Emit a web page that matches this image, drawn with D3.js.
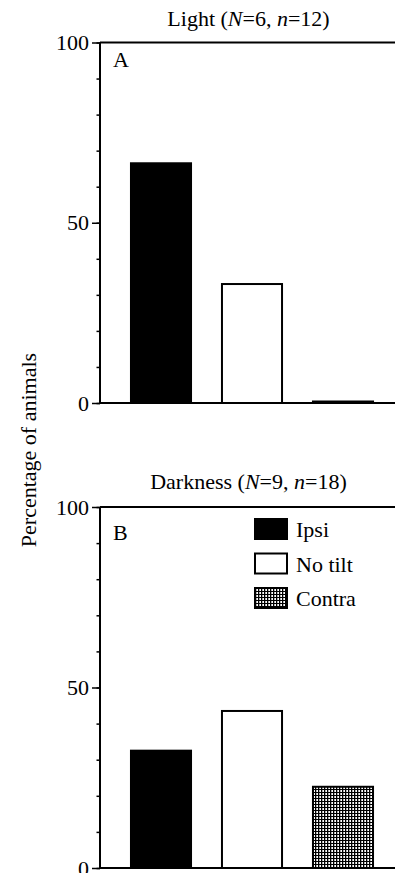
<!DOCTYPE html>
<html><head><meta charset="utf-8">
<script src="https://cdn.jsdelivr.net/npm/d3@7"></script>
<style>html,body{margin:0;padding:0;background:#fff;}svg{display:block;}</style>
</head><body>
<svg id="chart" width="395" height="873"></svg>
<script>
const categories = ["Ipsi", "No tilt", "Contra"];
const lightValues = [66.5, 33, 0];
const darkValues = [32.5, 43.5, 22.5];
const tickValues = [0, 10, 20, 30, 40, 50, 60, 70, 80, 90, 100];
const tickLabels = [0, 50, 100];
const panelTitles = [["Light (", "N", "=6, ", "n", "=12)"], ["Darkness (", "N", "=9, ", "n", "=18)"]];
const panelLetters = ["A", "B"];

const FONT = "'Liberation Serif', 'Times New Roman', serif";
const FS = 22;
const svg = d3.select("#chart");
const defs = svg.append("defs");
const pat = defs.append("pattern").attr("id", "grid").attr("patternUnits", "userSpaceOnUse")
  .attr("width", 3).attr("height", 3);
pat.append("rect").attr("width", 3).attr("height", 3).attr("fill", "#fff");
pat.append("rect").attr("x", 0).attr("y", 0).attr("width", 1.3).attr("height", 3).attr("fill", "#000");
pat.append("rect").attr("x", 0).attr("y", 0).attr("width", 3).attr("height", 1).attr("fill", "#000");

const fills = ["#000", "#fff", "url(#grid)"];
const x0 = 100, x1 = 395;
const x = d3.scaleBand().domain(categories).range([115.5, 388.5]).paddingInner(0.34).paddingOuter(0.17);

const panels = [
  {values: lightValues, top: 42.5, bottom: 403, titleY: 26, letterY: 67},
  {values: darkValues, top: 507, bottom: 868, titleY: 489, letterY: 540}
];

panels.forEach((p, i) => {
  const y = d3.scaleLinear().domain([0, 100]).range([p.bottom, p.top]);
  const g = svg.append("g");
  g.append("g").attr("transform", `translate(${x0},0)`)
    .call(d3.axisLeft(y).tickValues(tickValues).tickSize(3.5).tickFormat(""))
    .call(a => a.select(".domain").remove())
    .call(a => a.selectAll("line").attr("stroke", "#000").attr("stroke-width", 1.5));
  g.append("g").attr("transform", `translate(${x0},0)`)
    .call(d3.axisLeft(y).tickValues(tickLabels).tickSize(8).tickPadding(3).tickFormat(d3.format("d")))
    .call(a => a.select(".domain").remove())
    .call(a => a.selectAll("line").attr("stroke", "#000").attr("stroke-width", 1.5))
    .call(a => a.selectAll("text").attr("font-family", FONT).attr("font-size", FS).attr("fill", "#000"));
  g.append("line").attr("x1", x0).attr("x2", x0).attr("y1", y(100)).attr("y2", y(0))
    .attr("stroke", "#000").attr("stroke-width", 2);
  g.append("line").attr("x1", x0).attr("x2", x1).attr("y1", y(100)).attr("y2", y(100))
    .attr("stroke", "#000").attr("stroke-width", 1.8);
  g.selectAll("rect.bar").data(p.values).join("rect").attr("class", "bar")
    .attr("x", (d, j) => x(categories[j]))
    .attr("width", x.bandwidth())
    .attr("y", d => y(0) - Math.max(y(0) - y(d), 1.5))
    .attr("height", d => Math.max(y(0) - y(d), 1.5))
    .attr("fill", (d, j) => fills[j])
    .attr("stroke", "#000").attr("stroke-width", 2);
  g.append("line").attr("x1", x0).attr("x2", x1).attr("y1", y(0)).attr("y2", y(0))
    .attr("stroke", "#000").attr("stroke-width", 2);
  const t = g.append("text").attr("x", (x0 + x1) / 2 + 1).attr("y", p.titleY)
    .attr("text-anchor", "middle").attr("font-family", FONT).attr("font-size", FS).attr("fill", "#000");
  panelTitles[i].forEach((s, k) => {
    t.append("tspan").text(s).attr("font-style", (k === 1 || k === 3) ? "italic" : "normal");
  });
  g.append("text").attr("x", 113).attr("y", p.letterY).attr("font-family", FONT).attr("font-size", FS)
    .attr("fill", "#000").text(panelLetters[i]);
});

const legend = svg.append("g").attr("transform", "translate(255,519)");
categories.forEach((c, j) => {
  const row = legend.append("g").attr("transform", `translate(0,${j * 34.5})`);
  row.append("rect").attr("x", 0).attr("y", 0).attr("width", 32).attr("height", 20)
    .attr("fill", fills[j]).attr("stroke", "#000").attr("stroke-width", 2);
  row.append("text").attr("x", 41).attr("y", 18).attr("font-family", FONT).attr("font-size", FS)
    .attr("fill", "#000").text(c);
});

svg.append("text").attr("transform", "translate(36,450) rotate(-90)")
  .attr("text-anchor", "middle").attr("font-family", FONT).attr("font-size", FS).attr("fill", "#000")
  .text("Percentage of animals");
</script>
</body></html>
